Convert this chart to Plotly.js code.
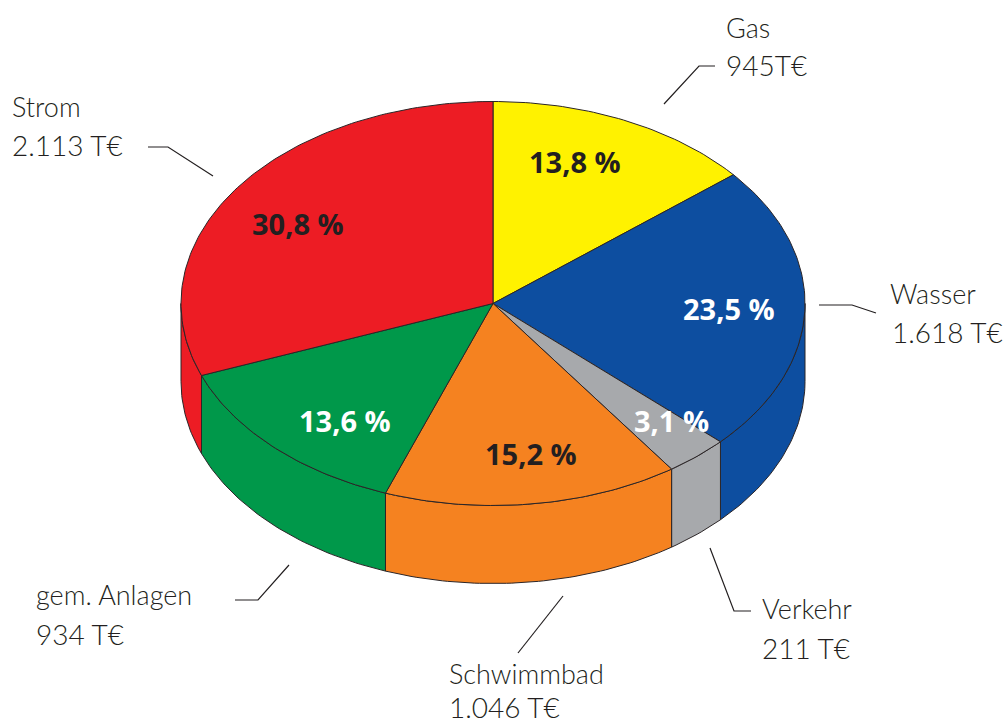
<!DOCTYPE html>
<html><head><meta charset="utf-8">
<script src="https://cdn.plot.ly/plotly-3.0.1.min.js"></script>
<style>html,body{margin:0;padding:0;background:#fff}#c{width:1005px;height:726px}</style>
</head><body><div id="c"></div>
<script>
// Data
const categories = ['Gas','Wasser','Verkehr','Schwimmbad','gem. Anlagen','Strom'];
// Wedge sizes as measured on the picture (the printed labels round slightly differently)
const wedgeShares = [14.0,23.0,3.3,15.3,13.6,30.8];
const amounts = ['945T€','1.618 T€','211 T€','1.046 T€','934 T€','2.113 T€'];
const shareLabels = ['13,8 %','23,5 %','3,1 %','15,2 %','13,6 %','30,8 %'];

// Styles and layout
const colors = ['#FFF200','#0D4EA0','#A7A9AC','#F58220','#00984A','#ED1C24'];
const shareColors = ['#231F20','#fff','#fff','#231F20','#fff','#231F20'];
const shareX = [575,729,671,531,345,298];
const shareY = [161,308,420,453,420,223];
const nameX = [724,888,760,447,34,10];
const nameY = [27,293,608,673,594,106];
const amountX = [724,890,760,447,34,10];
const amountY = [65,332,648,707,634,145];
const leaders = [
  [[664,699,715],[104,66,66]],
  [[819,852,876],[305,305,313]],
  [[710,734,751],[548,611,611]],
  [[518,563],[653,596]],
  [[235,258,289],[600,600,565]],
  [[148,168,213],[147,147,176]]
];
const cx=493, cy=303.5, rx=312, ry=202, depth=78;
const edge={color:'#2b2527',width:1};

const pt=(a,dy)=>{const r=a*Math.PI/180;return [cx+rx*Math.sin(r),cy-ry*Math.cos(r)+dy];};
function arc(a0,a1,dy){
  const n=Math.max(2,Math.ceil(Math.abs(a1-a0)));
  const out=[];
  for(let i=0;i<=n;i++) out.push(pt(a0+(a1-a0)*i/n,dy));
  return out;
}
const total=wedgeShares.reduce((s,v)=>s+v,0);
const traces=[];
const poly=(pts,color)=>traces.push({type:'scatter',mode:'lines',x:pts.map(p=>p[0]),y:pts.map(p=>p[1]),
  fill:'toself',fillcolor:color,line:edge,hoverinfo:'skip',showlegend:false});

let start=0;
const spans=wedgeShares.map(v=>{const s=[start,start+v/total*360];start=s[1];return s;});
// side walls (only the front half of the disc shows)
spans.forEach((s,i)=>{
  const a0=Math.max(s[0],90), a1=Math.min(s[1],270);
  if(a1<=a0) return;
  poly([...arc(a0,a1,0),...arc(a1,a0,depth),pt(a0,0)],colors[i]);
});
// top wedges
spans.forEach((s,i)=>poly([[cx,cy],...arc(s[0],s[1],0),[cx,cy]],colors[i]));
// leader lines
leaders.forEach(l=>traces.push({type:'scatter',mode:'lines',x:l[0],y:l[1],
  line:{color:'#231F20',width:1.2},hoverinfo:'skip',showlegend:false}));

const annotations=[];
const ann=(x,y,text,family,size,color,anchor,weight)=>annotations.push({x,y,xref:'x',yref:'y',text,showarrow:false,
  xanchor:anchor,yanchor:'middle',font:{family,size,color,weight}});
categories.forEach((c,i)=>{
  ann(nameX[i],nameY[i],c,'Lato, sans-serif',27,'#231F20','left',300);
  ann(amountX[i],amountY[i],amounts[i],'Lato, sans-serif',28,'#231F20','left',300);
  ann(shareX[i],shareY[i],shareLabels[i],'Open Sans, sans-serif',29,shareColors[i],'center',700);
});

Plotly.newPlot('c',traces,{
  width:1005,height:726,margin:{l:0,r:0,t:0,b:0},
  paper_bgcolor:'#fff',plot_bgcolor:'#fff',showlegend:false,
  xaxis:{range:[0,1005],visible:false,fixedrange:true},
  yaxis:{range:[726,0],visible:false,fixedrange:true},
  annotations
},{staticPlot:true,displayModeBar:false});
</script></body></html>
